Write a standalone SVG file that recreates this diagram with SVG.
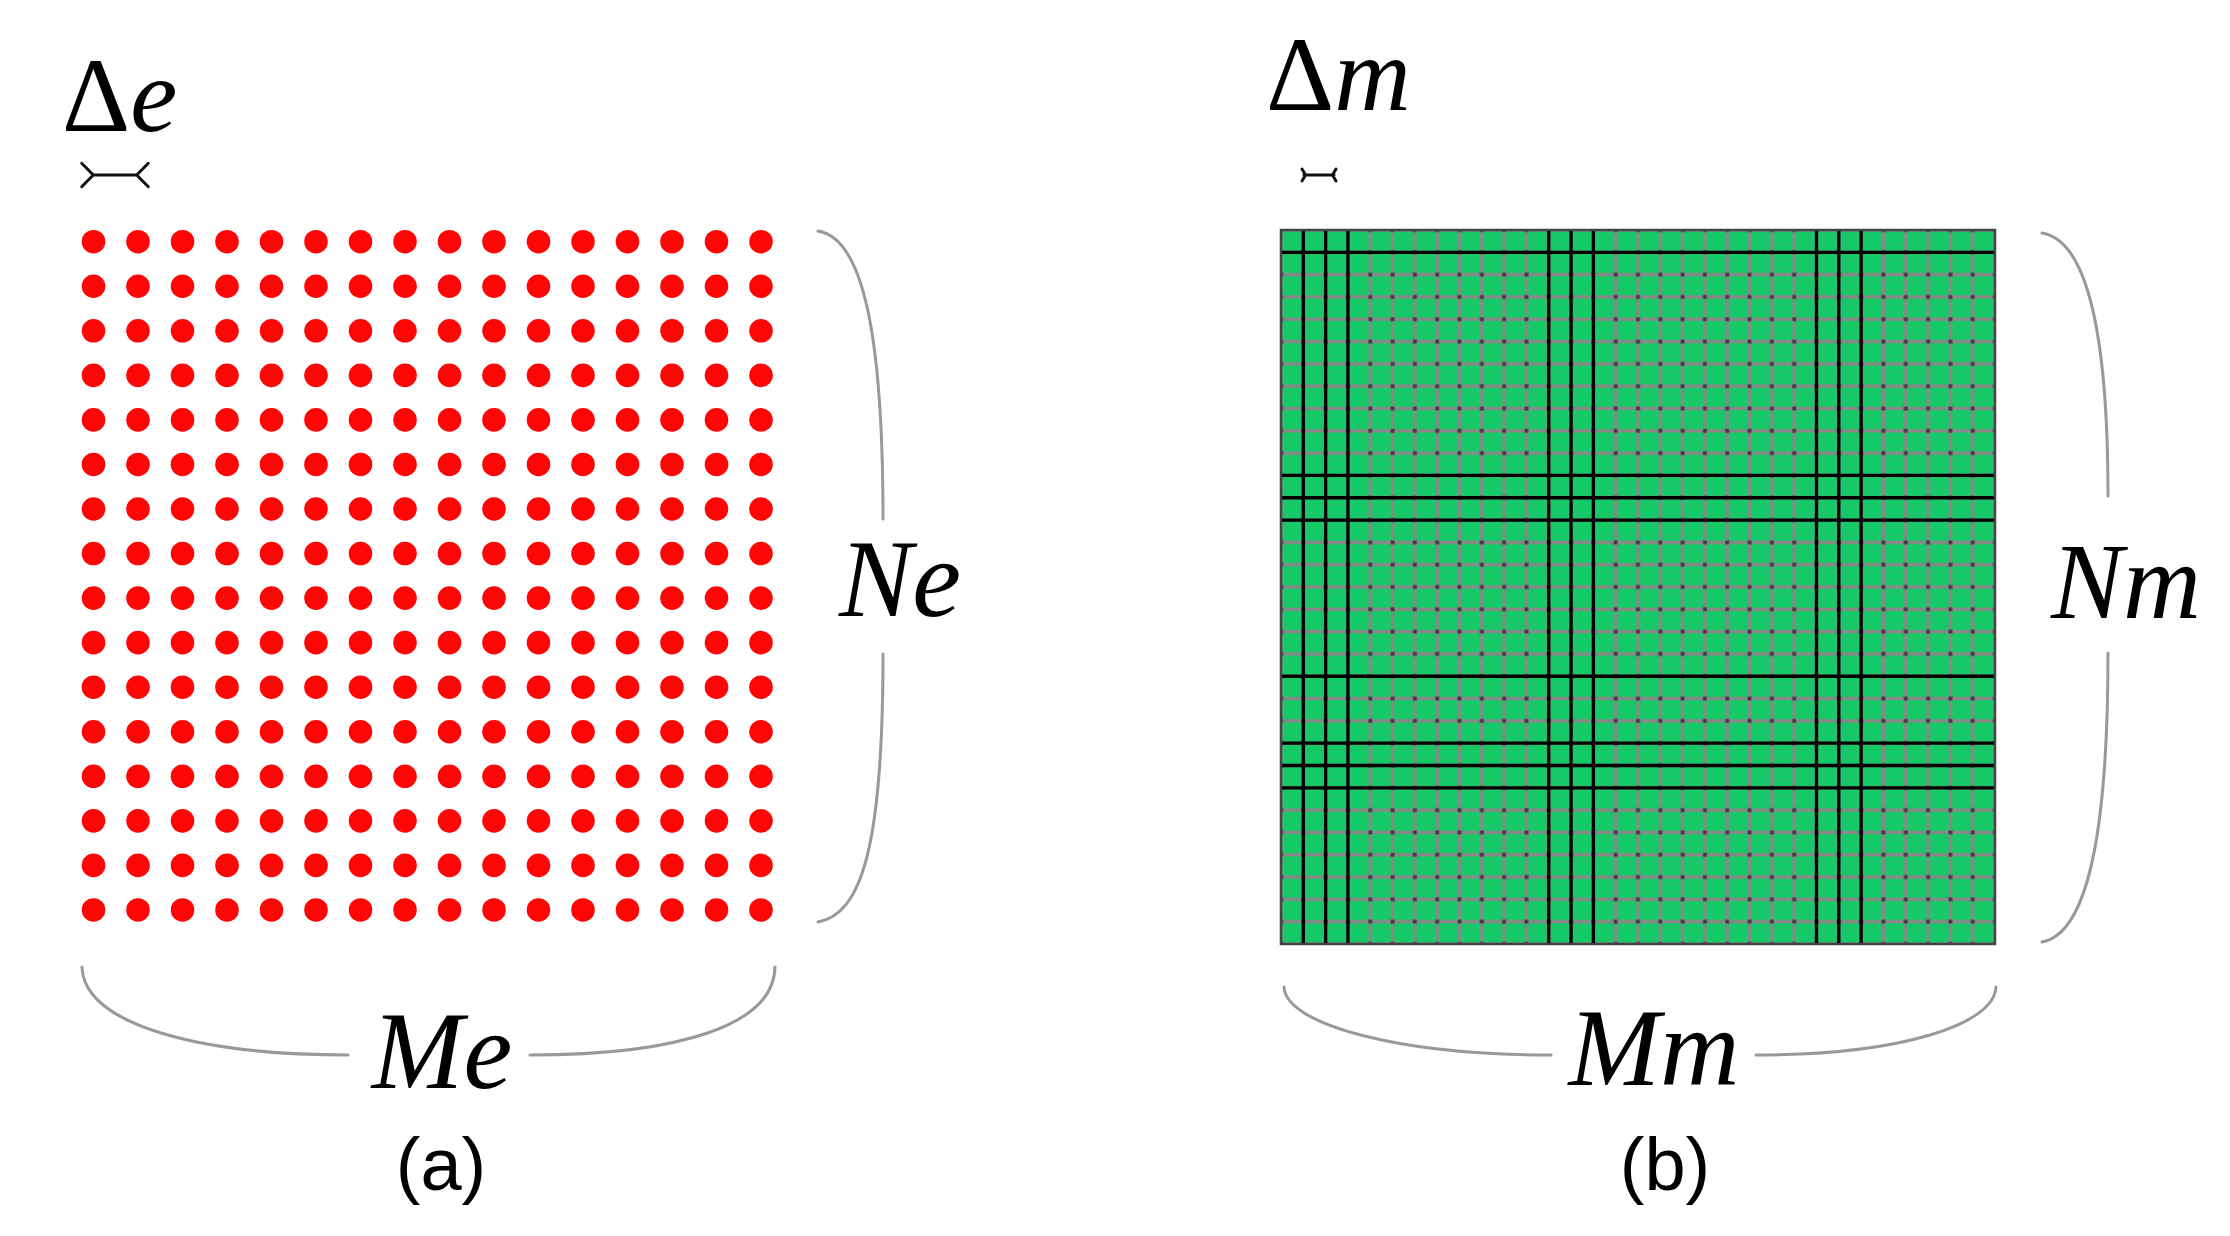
<svg xmlns="http://www.w3.org/2000/svg" xmlns:xlink="http://www.w3.org/1999/xlink" width="2230" height="1236" viewBox="0 0 2230 1236">
<style>
.math{font-family:"Liberation Serif","DejaVu Serif",serif;fill:#000}
.it{font-style:italic}
.cap{font-family:"Liberation Sans",Arial,sans-serif;font-size:74px;fill:#000;text-anchor:middle}
.brace{fill:none;stroke:#999;stroke-width:3;stroke-linecap:round}
.dim{fill:none;stroke:#111;stroke-width:3;stroke-linecap:round;stroke-linejoin:round}
.blk{stroke:#000;stroke-width:3.3}
</style>
<defs>
<g id="dotrow" fill="#ff0606">
<circle cx="93.5" cy="0" r="11.8"/><circle cx="138" cy="0" r="11.8"/><circle cx="182.5" cy="0" r="11.8"/><circle cx="227" cy="0" r="11.8"/>
<circle cx="271.5" cy="0" r="11.8"/><circle cx="316" cy="0" r="11.8"/><circle cx="360.5" cy="0" r="11.8"/><circle cx="405" cy="0" r="11.8"/>
<circle cx="449.5" cy="0" r="11.8"/><circle cx="494" cy="0" r="11.8"/><circle cx="538.5" cy="0" r="11.8"/><circle cx="583" cy="0" r="11.8"/>
<circle cx="627.5" cy="0" r="11.8"/><circle cx="672" cy="0" r="11.8"/><circle cx="716.5" cy="0" r="11.8"/><circle cx="761" cy="0" r="11.8"/>
</g>
<pattern id="cells" patternUnits="userSpaceOnUse" x="1269.84375" y="218.84375" width="22.3125" height="22.3125">
<rect x="0" y="0" width="22.3125" height="22.3125" fill="#0fcc66"/>
<g stroke="#44b070" stroke-width="1" opacity="0.45">
<line x1="3.7" y1="0" x2="3.7" y2="22.3125"/><line x1="18.6" y1="0" x2="18.6" y2="22.3125"/>
<line x1="0" y1="3.7" x2="22.3125" y2="3.7"/><line x1="0" y1="18.6" x2="22.3125" y2="18.6"/>
</g>
<rect x="9.4" y="0" width="3.5" height="22.3125" fill="#888"/>
<rect x="0" y="9.4" width="22.3125" height="3.5" fill="#888"/>
<rect x="9.2" y="9.2" width="3.9" height="3.9" fill="#3c3c3c"/>
</pattern>
</defs>

<g id="panel-a">
<g id="delta-e">
<text class="math" x="62" y="131" font-size="106">Δ<tspan class="it">e</tspan></text>
<path class="dim" d="M93.3 175H136.7M81.7 163.3L93.3 175L81.7 186.7M148.3 163.3L136.7 175L148.3 186.7"/>
</g>
<g id="dots">
<use xlink:href="#dotrow" y="241.7"/><use xlink:href="#dotrow" y="286.25"/><use xlink:href="#dotrow" y="330.8"/><use xlink:href="#dotrow" y="375.35"/>
<use xlink:href="#dotrow" y="419.9"/><use xlink:href="#dotrow" y="464.45"/><use xlink:href="#dotrow" y="509"/><use xlink:href="#dotrow" y="553.55"/>
<use xlink:href="#dotrow" y="598.1"/><use xlink:href="#dotrow" y="642.65"/><use xlink:href="#dotrow" y="687.2"/><use xlink:href="#dotrow" y="731.75"/>
<use xlink:href="#dotrow" y="776.3"/><use xlink:href="#dotrow" y="820.85"/><use xlink:href="#dotrow" y="865.4"/><use xlink:href="#dotrow" y="909.95"/>
</g>
<g id="brace-Ne">
<path class="brace" d="M818 231C862 238 883 330 883 519M883 654C883 845 862 914 818 922"/>
<text class="math it" x="900" y="616" font-size="110" text-anchor="middle">Ne</text>
</g>
<g id="brace-Me">
<path class="brace" d="M82 967C84 1025 200 1055 348 1055M530 1055C680 1055 774 1025 775 967"/>
<text class="math it" x="442" y="1088" font-size="110" text-anchor="middle">Me</text>
</g>
<text id="label-a" class="cap" x="441" y="1190">(a)</text>
</g>

<g id="panel-b">
<g id="delta-m">
<text class="math" x="1266" y="110" font-size="106">Δ<tspan class="it">m</tspan></text>
<path class="dim" stroke-width="4.5" d="M1304 175H1334M1302 169L1305.5 175L1302 181M1336 169L1332.5 175L1336 181"/>
</g>
<g id="mesh">
<rect x="1281" y="230" width="714" height="714" fill="url(#cells)"/>
<g class="blk">
<line x1="1303.31" y1="230" x2="1303.31" y2="944"/><line x1="1325.63" y1="230" x2="1325.63" y2="944"/><line x1="1347.94" y1="230" x2="1347.94" y2="944"/>
<line x1="1548.75" y1="230" x2="1548.75" y2="944"/><line x1="1571.06" y1="230" x2="1571.06" y2="944"/><line x1="1593.38" y1="230" x2="1593.38" y2="944"/>
<line x1="1816.5" y1="230" x2="1816.5" y2="944"/><line x1="1838.81" y1="230" x2="1838.81" y2="944"/><line x1="1861.13" y1="230" x2="1861.13" y2="944"/>
<line x1="1281" y1="252.31" x2="1995" y2="252.31"/><line x1="1281" y1="475.44" x2="1995" y2="475.44"/><line x1="1281" y1="497.75" x2="1995" y2="497.75"/>
<line x1="1281" y1="520.06" x2="1995" y2="520.06"/><line x1="1281" y1="676.25" x2="1995" y2="676.25"/><line x1="1281" y1="743.19" x2="1995" y2="743.19"/>
<line x1="1281" y1="765.5" x2="1995" y2="765.5"/><line x1="1281" y1="787.81" x2="1995" y2="787.81"/>
</g>
<rect x="1281" y="230" width="714" height="714" fill="none" stroke="#444" stroke-width="2.5"/>
</g>
<g id="brace-Nm">
<path class="brace" d="M2042 233C2086 240 2108 330 2108 496M2108 653C2108 840 2086 934 2042 942"/>
<text class="math it" x="2126" y="618" font-size="108" text-anchor="middle">Nm</text>
</g>
<g id="brace-Mm">
<path class="brace" d="M1284 987C1286 1025 1400 1055 1551 1055M1756 1055C1900 1055 1994 1025 1996 987"/>
<text class="math it" x="1654" y="1085" font-size="110" text-anchor="middle">Mm</text>
</g>
<text id="label-b" class="cap" x="1665" y="1190">(b)</text>
</g>
</svg>
